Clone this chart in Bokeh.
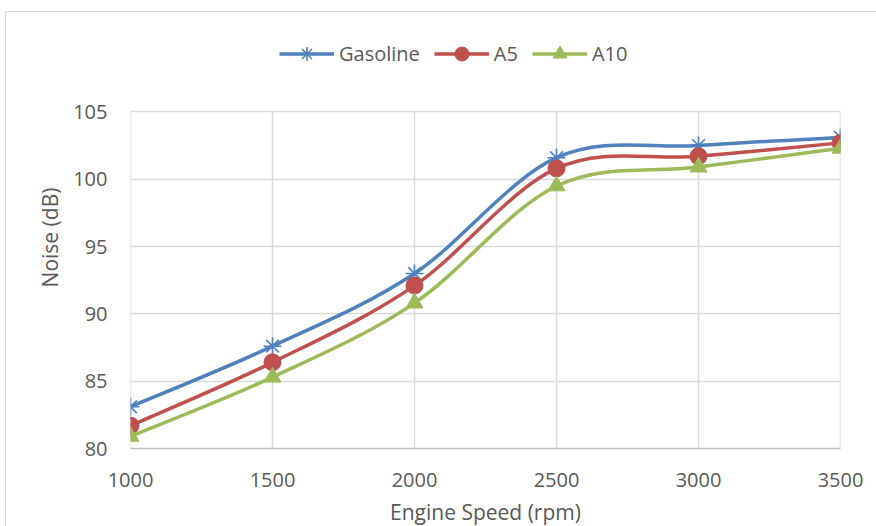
import numpy as np
from bokeh.plotting import figure
from bokeh.models import (Range1d, FixedTicker, Legend, LegendItem, ColumnDataSource)
from bokeh.embed import file_html
from bokeh.resources import INLINE

# ---- data ----
speed = [1000, 1500, 2000, 2500, 3000, 3500]
gasoline = [83.1, 87.6, 93.0, 101.6, 102.5, 103.1]
a5 = [81.7, 86.4, 92.1, 100.8, 101.7, 102.7]
a10 = [80.9, 85.3, 90.8, 99.5, 100.9, 102.3]
series_names = ["Gasoline", "A5", "A10"]
x_ticks = [1000, 1500, 2000, 2500, 3000, 3500]
y_ticks = [80, 85, 90, 95, 100, 105]

colors = ["#4F81BD", "#C0504D", "#9BBB59"]
markers = ["asterisk", "circle", "triangle"]
FONT = "Open Sans"
TXT = "#595959"
GRID = "#d9d9d9"

# frame extends above the 105 line to host the legend (px per dB = 335/25)
Y_TOP = 105 + 85 / (335 / 25)

p = figure(width=872, height=516, output_backend="svg", toolbar_location=None,
           x_range=Range1d(1000, 3500), y_range=Range1d(80, Y_TOP),
           min_border_left=124, min_border_right=38, min_border_top=14,
           min_border_bottom=80)
p.styles = {"margin-left": "5px", "margin-top": "11px",
            "border-left": "1px solid #d9d9d9", "border-top": "1px solid #d9d9d9"}
p.outline_line_color = None
p.background_fill_color = "white"
p.border_fill_color = "white"

for ax, ticks in ((p.xaxis[0], x_ticks), (p.yaxis[0], y_ticks)):
    ax.ticker = FixedTicker(ticks=ticks)
    ax.major_tick_line_color = None
    ax.minor_tick_line_color = None
    ax.major_label_text_font = FONT
    ax.major_label_text_font_size = "20px"
    ax.major_label_text_color = TXT
    ax.axis_label_text_font = FONT
    ax.axis_label_text_font_size = "21px"
    ax.axis_label_text_font_style = "normal"
    ax.axis_label_text_color = TXT

p.xaxis.axis_label = "Engine Speed (rpm)"
p.yaxis.axis_label = "Noise (dB)"
p.xaxis.axis_line_color = "#bfbfbf"
p.xaxis.axis_line_width = 1.5
p.yaxis.axis_line_color = None
p.yaxis.bounds = (y_ticks[0], y_ticks[-1])
p.xaxis.major_label_standoff = 18
p.xaxis.axis_label_standoff = 8
p.yaxis.major_label_standoff = 17
p.yaxis.axis_label_standoff = 6

# horizontal grid from the library, vertical grid limited to the 80-105 band
p.ygrid.ticker = FixedTicker(ticks=y_ticks)
p.ygrid.grid_line_color = GRID
p.ygrid.grid_line_width = 1.5
p.xgrid.visible = False
p.segment(x0=x_ticks, y0=[y_ticks[0]] * len(x_ticks), x1=x_ticks,
          y1=[y_ticks[-1]] * len(x_ticks), line_color=GRID, line_width=1.5,
          level="underlay")


def smooth_segments(xs, ys, t=1.0 / 6.0):
    x = np.asarray(xs, float)
    y = np.asarray(ys, float)
    n = len(x)
    xp = np.concatenate([[x[0]], x, [x[-1]]])
    yp = np.concatenate([[y[0]], y, [y[-1]]])
    x0, y0 = x[:-1], y[:-1]
    x1, y1 = x[1:], y[1:]
    i = np.arange(1, n)
    cx0 = x0 + (xp[i + 1] - xp[i - 1]) * t
    cy0 = y0 + (yp[i + 1] - yp[i - 1]) * t
    cx1 = x1 - (xp[i + 2] - xp[i]) * t
    cy1 = y1 - (yp[i + 2] - yp[i]) * t
    return dict(x0=x0, y0=y0, x1=x1, y1=y1, cx0=cx0, cy0=cy0, cx1=cx1, cy1=cy1)


items = []
for name, vals, col, mk in zip(series_names, [gasoline, a5, a10], colors, markers):
    seg = ColumnDataSource(smooth_segments(speed, vals))
    ln = p.bezier(x0="x0", y0="y0", x1="x1", y1="y1", cx0="cx0", cy0="cy0",
                  cx1="cx1", cy1="cy1", source=seg, line_color=col, line_width=3.5)
    if mk == "asterisk":
        sc = p.scatter(speed, vals, marker=mk, size=18, line_color=col,
                       line_width=1.6, fill_color=None)
    else:
        sc = p.scatter(speed, vals, marker=mk, size=17, line_color=col,
                       fill_color=col)
    items.append(LegendItem(label=name, renderers=[ln, sc], index=0))

legend = Legend(items=items, orientation="horizontal", location=(149, 377),
                glyph_width=55, glyph_height=35, label_standoff=5, spacing=14,
                padding=0, margin=0, border_line_color=None,
                background_fill_alpha=0,
                label_text_font=FONT, label_text_font_size="20px",
                label_text_color=TXT)
p.add_layout(legend)

open("out.html", "w").write(file_html(p, INLINE))
